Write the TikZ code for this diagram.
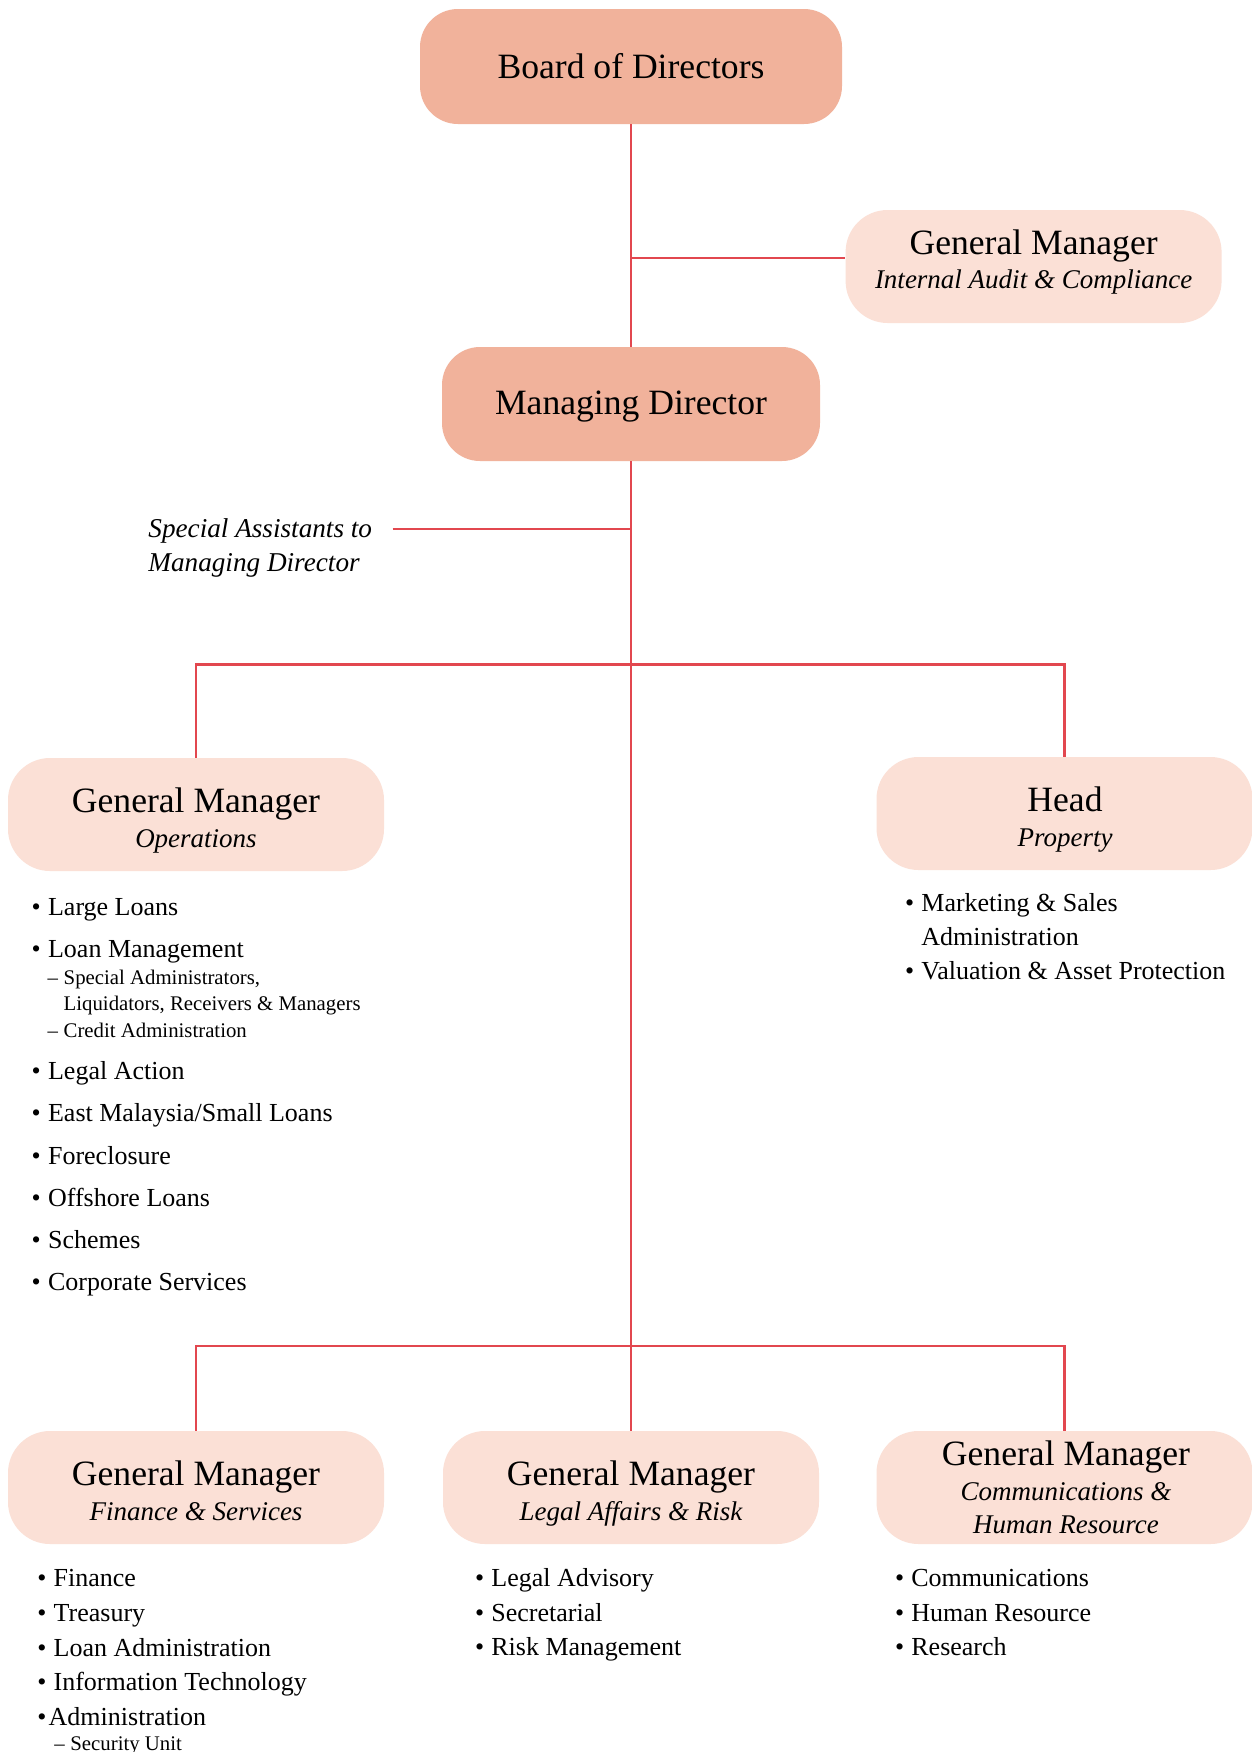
\documentclass[tikz,border=0pt]{standalone}
\usepackage{fontspec}
\setmainfont{Liberation Serif}
\newcommand\myfs[1]{\fontsize{#1}{#1}\selectfont}
\newcommand\mybul[1]{\makebox[8.2pt][l]{•}#1}
\newcommand\mydash[2]{\makebox[#1][l]{–}#2}
\definecolor{darkbox}{HTML}{F1B29B}
\definecolor{lightbox}{HTML}{FBE0D6}
\definecolor{linkred}{HTML}{E2474F}
\tikzset{
  boxdark/.style={fill=darkbox, rounded corners=19pt, inner sep=0pt, minimum height=57pt},
  boxlight/.style={fill=lightbox, rounded corners=21pt, inner sep=0pt, minimum height=56.5pt, minimum width=188pt},
  link/.style={draw=linkred, line width=1.3pt},
  title/.style={anchor=base, inner sep=0pt, font=\myfs{17.8pt}},
  subtitle/.style={anchor=base, inner sep=0pt, font=\myfs{13.5pt}\itshape},
  item/.style={anchor=base west, inner sep=0pt, font=\myfs{13pt}},
  subitem/.style={anchor=base west, inner sep=0pt, font=\myfs{10.4pt}},
  note/.style={anchor=base west, inner sep=0pt, font=\myfs{13.6pt}\itshape},
}
\begin{document}
\begin{tikzpicture}[x=0.5pt, y=-0.5pt]
\useasboundingbox[fill=white] (0,0) rectangle (1252,1752);

% boxes
\node[boxdark, minimum width=211pt, minimum height=57.5pt] (board) at (631,66.5) {};
\node[boxlight] (ia) at (1033.6,266.5) {};
\node[boxdark, minimum width=189pt] (md) at (631,404) {};
\node[boxlight] (ops) at (196,814.5) {};
\node[boxlight] (head) at (1064.5,813.5) {};
\node[boxlight] (fin) at (196,1487.5) {};
\node[boxlight] (legal) at (631,1487.5) {};
\node[boxlight] (comms) at (1064.5,1487.5) {};

% connectors
\coordinate (jia) at (631,258);
\coordinate (jsa) at (631,529);
\coordinate (sae) at (392.7,529);
\coordinate (jtop) at (631,664.5);
\coordinate (jbot) at (631,1346);
\draw[link] (board.south) -- (md.north);
\draw[link] (jia) -- (ia.west |- jia);
\draw[link] (sae) -- (jsa);
\draw[link] (md.south) -- (jbot) -- (legal.north);
\draw[link] (ops.north) |- (jtop) -| (head.north);
\draw[link] (fin.north) |- (jbot) -| (comms.north);

% box texts
\node[title] (tboard) at (631,78.5) {Board of Directors};
\node[title] (tia1) at (1033.6,254) {General Manager};
\node[subtitle] (tia2) at (1033.6,288) {Internal Audit \& Compliance};
\node[title] (tmd) at (631,414.5) {Managing Director};
\node[title] (tops1) at (196,812) {General Manager};
\node[subtitle] (tops2) at (196,847) {Operations};
\node[title] (thead1) at (1065,811) {Head};
\node[subtitle] (thead2) at (1065,846) {Property};
\node[title] (tfin1) at (196,1485) {General Manager};
\node[subtitle] (tfin2) at (196,1520) {Finance \& Services};
\node[title] (tleg1) at (631,1485) {General Manager};
\node[subtitle] (tleg2) at (631,1520) {Legal Affairs \& Risk};
\node[title] (tcom1) at (1066,1465) {General Manager};
\node[subtitle] (tcom2) at (1066,1500.7) {Communications \&};
\node[subtitle] (tcom3) at (1066,1533.3) {Human Resource};

% special assistants
\node[note] (sa1) at (148,537.3) {Special Assistants to};
\node[note] (sa2) at (148,571.7) {Managing Director};

% operations list
\node[item] (o1) at (31.3,915) {\mybul{Large Loans}};
\node[item] (o2) at (31.3,957.3) {\mybul{Loan Management}};
\node[subitem] (o2a) at (47.3,984) {\mydash{8pt}{Special Administrators,}};
\node[subitem] (o2b) at (63.3,1010.7) {Liquidators, Receivers \& Managers};
\node[subitem] (o2c) at (47.3,1037.3) {\mydash{8pt}{Credit Administration}};
\node[item] (o3) at (31.3,1079) {\mybul{Legal Action}};
\node[item] (o4) at (31.3,1121.6) {\mybul{East Malaysia/Small Loans}};
\node[item] (o5) at (31.3,1164.3) {\mybul{Foreclosure}};
\node[item] (o6) at (31.3,1206.7) {\mybul{Offshore Loans}};
\node[item] (o7) at (31.3,1248.3) {\mybul{Schemes}};
\node[item] (o8) at (31.3,1290) {\mybul{Corporate Services}};

% property list
\node[item] (p1) at (904.6,911.7) {\mybul{Marketing \& Sales}};
\node[item] (p1b) at (921,945) {Administration};
\node[item] (p2) at (904.6,979.3) {\mybul{Valuation \& Asset Protection}};

% finance list
\node[item] (f1) at (36.9,1586.7) {\mybul{Finance}};
\node[item] (f2) at (36.9,1621.7) {\mybul{Treasury}};
\node[item] (f3) at (36.9,1656.7) {\mybul{Loan Administration}};
\node[item] (f4) at (36.9,1690.7) {\mybul{Information Technology}};
\node[item] (f5) at (37,1725.7) {\makebox[5.65pt][l]{•}Administration};
\node[subitem] (f5a) at (54,1750) {\mydash{8pt}{Security Unit}};

% legal list
\node[item] (l1) at (474.6,1586.7) {\mybul{Legal Advisory}};
\node[item] (l2) at (474.6,1621) {\mybul{Secretarial}};
\node[item] (l3) at (474.6,1655.3) {\mybul{Risk Management}};

% comms list
\node[item] (c1) at (894.6,1586.7) {\mybul{Communications}};
\node[item] (c2) at (894.6,1621) {\mybul{Human Resource}};
\node[item] (c3) at (894.6,1655.3) {\mybul{Research}};
\end{tikzpicture}
\end{document}
